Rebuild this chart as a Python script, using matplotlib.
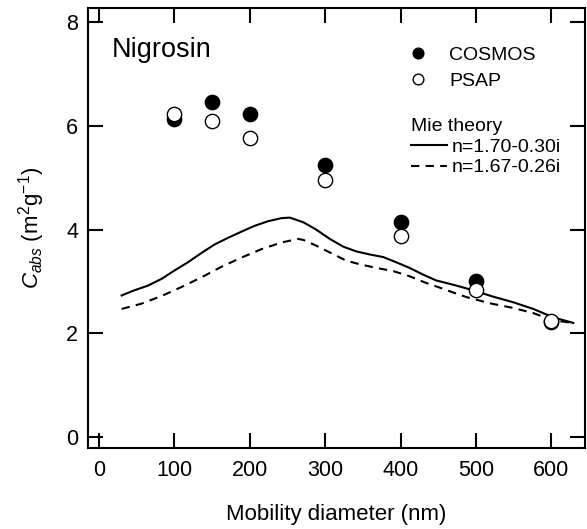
import numpy as np
import matplotlib
matplotlib.use("Agg")
import matplotlib.pyplot as plt
from matplotlib.lines import Line2D

plt.rcParams['font.family'] = ['Liberation Sans', 'DejaVu Sans']
plt.rcParams['mathtext.fontset'] = 'custom'
plt.rcParams['mathtext.rm'] = 'Liberation Sans'
plt.rcParams['mathtext.it'] = 'Liberation Sans:italic'
plt.rcParams['lines.solid_joinstyle'] = 'round'
plt.rcParams['lines.dash_joinstyle'] = 'round'

# measured absorption cross sections
diam = [100, 150, 200, 300, 400, 500, 600]
cosmos = [6.13, 6.45, 6.23, 5.25, 4.14, 3.00, 2.22]
psap = [6.22, 6.10, 5.77, 4.96, 3.88, 2.84, 2.23]

# Mie theory, n=1.70-0.30i
mie_d1 = [30, 47, 65, 83, 100, 118, 136, 153, 171, 189, 206, 224, 242, 253,
          271, 288, 306, 324, 341, 359, 377, 394, 412, 430, 447, 474, 496,
          522, 549, 576, 602, 629]
mie_c1 = [2.73, 2.83, 2.92, 3.05, 3.21, 3.37, 3.55, 3.71, 3.84, 3.96, 4.07,
          4.16, 4.22, 4.23, 4.14, 4.00, 3.82, 3.67, 3.58, 3.52, 3.47, 3.37,
          3.26, 3.13, 3.02, 2.92, 2.83, 2.71, 2.60, 2.47, 2.31, 2.20]
# Mie theory, n=1.67-0.26i
mie_d2 = [30, 56, 83, 109, 136, 162, 189, 215, 242, 264, 271, 288, 310, 328,
          346, 368, 390, 412, 434, 456, 469, 487, 518, 549, 576, 602, 629]
mie_c2 = [2.47, 2.57, 2.72, 2.89, 3.08, 3.28, 3.46, 3.62, 3.75, 3.82, 3.80,
          3.69, 3.53, 3.40, 3.33, 3.26, 3.20, 3.10, 2.97, 2.86, 2.79, 2.70,
          2.58, 2.49, 2.39, 2.25, 2.20]

fig = plt.figure(figsize=(5.87, 5.29), dpi=100)
ax = fig.add_axes([88/587, 1-448/529, (585-88)/587, (448-8)/529])

dash = (0, (4, 3))
ax.plot(mie_d1, mie_c1, color='black', lw=1.5)
ax.plot(mie_d2, mie_c2, color='black', lw=1.5, linestyle=dash)
ax.plot(diam, cosmos, 'o', ms=10.3, mfc='black', mec='black', mew=1.0)
ax.plot(diam, psap, 'o', ms=10.3, mfc='white', mec='black', mew=1.0)

ax.set_xlim(-14.6, 644.5)
ax.set_ylim(-0.21, 8.27)
ax.set_xticks([0, 100, 200, 300, 400, 500, 600])
ax.set_yticks([0, 2, 4, 6, 8])
ax.tick_params(direction='in', top=True, right=True, length=11, width=1.5,
               labelsize=15.5)
ax.tick_params(axis='y', pad=7)
ax.tick_params(axis='x', pad=9)
for s in ax.spines.values():
    s.set_linewidth(1.5)

ax.set_xlabel('Mobility diameter (nm)', fontsize=16, labelpad=16)
ax.set_ylabel(r'$C_{abs}$ (m$^{2}$g$^{-1}$)', fontsize=16, labelpad=13.5)

ax.text(0.048, 0.905, 'Nigrosin', transform=ax.transAxes, fontsize=19.5,
        va='center', ha='left')

h1 = [Line2D([], [], ls='none', marker='o', ms=7.7, mfc='black', mec='black'),
      Line2D([], [], ls='none', marker='o', ms=7.7, mfc='white', mec='black')]
leg1 = ax.legend(h1, ['COSMOS', 'PSAP'], loc='upper left',
                 bbox_to_anchor=(0.644, 0.913), frameon=False, fontsize=14,
                 handlelength=1.0, handletextpad=1.1, labelspacing=0.45,
                 borderpad=0, borderaxespad=0)
ax.add_artist(leg1)

h2 = [Line2D([], [], color='black', lw=1.5),
      Line2D([], [], color='black', lw=1.5, linestyle=dash)]
leg2 = ax.legend(h2, ['n=1.70-0.30i', 'n=1.67-0.26i'], loc='upper left',
                 bbox_to_anchor=(0.65, 0.749), frameon=False, fontsize=14,
                 title='Mie theory', title_fontsize=14, alignment='left',
                 handlelength=1.87, handletextpad=0.2, labelspacing=0.15,
                 borderpad=0, borderaxespad=0)

fig.savefig('out.png', dpi=100)
